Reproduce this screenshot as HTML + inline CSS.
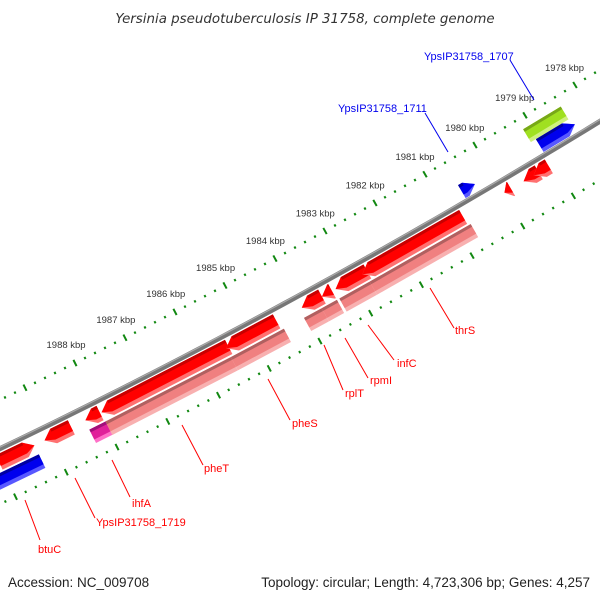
<!DOCTYPE html>
<html><head><meta charset="utf-8"><style>
body{margin:0;background:#fff}
svg{display:block;font-family:"Liberation Sans","DejaVu Sans",sans-serif}
</style></head><body>
<svg id="chart" width="600" height="600" viewBox="0 0 600 600" xmlns="http://www.w3.org/2000/svg">
<text x="305" y="23" text-anchor="middle" font-size="13.4" font-style="italic" fill="#333" font-family="DejaVu Sans, sans-serif">Yersinia pseudotuberculosis IP 31758, complete genome</text>
<g id="ticks"></g><g id="feats"></g><g id="labels"></g>
<text x="8" y="587" font-size="13.5" fill="#222">Accession: NC_009708</text>
<text x="590" y="587" text-anchor="end" font-size="13.5" fill="#222">Topology: circular; Length: 4,723,306 bp; Genes: 4,257</text>
</svg>
<script>
const tickKbp=[1988,1987,1986,1985,1984,1983,1982,1981,1980,1979,1978];
const tickLabels=["1988 kbp","1987 kbp","1986 kbp","1985 kbp","1984 kbp","1983 kbp","1982 kbp","1981 kbp","1980 kbp","1979 kbp","1978 kbp"];
const featStart=[1990,1989.1,1988.29,1987.97,1985.5,1984.0,1983.6,1983.33,1982.8,1979.98,1979.6,1979.4,1978.05,1988.3,1987.98,1985.5,1984.05,1983.7,1983.35,1982.75,1990.2,1980.6,1979.05,1979.15];
const featEnd=[1989.3,1988.57,1988.0,1985.45,1984.5,1983.6,1983.4,1982.7,1980.8,1979.85,1979.3,1979.1,1977.9,1987.95,1985.5,1984.45,1983.7,1983.4,1982.75,1980.75,1989.3,1980.34,1978.35,1978.4];
const featTrack=["red","red","red","red","red","red","red","red","red","red","red","red","red","pink","pink","pink","pink","pink","pink","pink","pink","blue","blue","green"];
const featDir=[1,-1,-1,-1,-1,-1,-1,-1,-1,-1,-1,-1,-1,0,0,0,0,0,0,0,0,1,1,0];
const featColor=["red","red","red","red","red","red","red","red","red","red","red","red","red","magenta","pink","pink","pink","pink","pink","pink","blue","blue","blue","green"];
const trackD={red:[48,64],pink:[66,81],blue:[26,41],green:[11,26]};
const colors={red:["#ff0000","#ff7070","#c80000"],pink:["#f08080","#f8b0b0","#b06060"],magenta:["#e0209a","#ff70c8","#a0107a"],blue:["#0000ee","#5858ff","#0000a0"],green:["#a0e020","#d0f080","#78a818"]};

function U(k){return 1988-k;}
function P(u,d){
  const bx=75+50*u, by=363-25*u-0.28*u*u;
  let tx=50, ty=-25-0.56*u; const L=Math.hypot(tx,ty); tx/=L; ty/=L;
  return [bx-ty*d, by+tx*d];
}
const NS="http://www.w3.org/2000/svg";
function mk(tag,attrs,parent){const e=document.createElementNS(NS,tag);for(const k in attrs)e.setAttribute(k,attrs[k]);parent.appendChild(e);return e;}
const gT=document.getElementById('ticks'), gF=document.getElementById('feats'), gL=document.getElementById('labels');

let pts=[];for(let u=-3;u<=11.5;u+=0.25){pts.push(P(u,44).join(','));}
let bb=mk('polyline',{points:pts.join(' '),fill:'none',stroke:'#777','stroke-width':5},gT);

pts=[];for(let u=-3;u<=11.5;u+=0.25){pts.push(P(u,42.5).join(','));}
let bb2=mk('polyline',{points:pts.join(' '),fill:'none',stroke:'#aaa','stroke-width':1.2},gT);


[0,94].forEach(function(d0){
  for(let i=-20;i<=60;i++){
    const u=i*0.2; const major=(i%5===0);
    const half=major?3.5:1.2;
    const a=P(u,d0-half), b=P(u,d0+half);
    if(a[0]<-5||a[0]>605||a[1]<30||a[1]>570)continue;
    const t=mk('line',{x1:a[0],y1:a[1],x2:b[0],y2:b[1],stroke:'#118811','stroke-width':2},gT);
    
    
  }
});
tickKbp.forEach(function(k,i){
  const p=P(U(k),-20);
  const t=mk('text',{x:p[0],y:p[1]+3,'text-anchor':'middle','font-size':9.5,fill:'#333'},gT);
  t.textContent=tickLabels[i];
  
  
});

function poly(arr){return arr.map(p=>p.join(',')).join(' ');}
featStart.forEach(function(s,i){
  let u1=U(s),u2=U(featEnd[i]); if(u1>u2){const t=u1;u1=u2;u2=t;}
  const d=trackD[featTrack[i]], d1=d[0], d2=d[1], dm=(d1+d2)/2;
  const a=Math.min(0.18,(u2-u1)*0.9); const dir=featDir[i]; const c=colors[featColor[i]];
  function shape(da,db){
    if(dir===-1) return [P(u1+a,da),P(u2,da),P(u2,db),P(u1+a,db),P(u1,dm)];
    if(dir===1) return [P(u1,da),P(u2-a,da),P(u2,dm),P(u2-a,db),P(u1,db)];
    return [P(u1,da),P(u2,da),P(u2,db),P(u1,db)];
  }
  const g=mk('g',{},gF);
  
  
  mk('polygon',{points:poly(shape(d1,d2)),fill:c[1]},g);
  mk('polygon',{points:poly(shape(d1,d2-4)),fill:c[0]},g);
  mk('polygon',{points:poly([P(u1+(dir===-1?a:0),d1),P(u2-(dir===1?a:0),d1),P(u2-(dir===1?a:0),d1+3),P(u1+(dir===-1?a:0),d1+3)]),fill:c[2]},g);
});

const labs=[
 ["btuC",25,500,40,540,38,553,"red"],
 ["YpsIP31758_1719",75,478,95,518,96,526,"red"],
 ["ihfA",112,460,130,497,132,507,"red"],
 ["pheT",182,425,203,465,204,472,"red"],
 ["pheS",268,379,290,420,292,427,"red"],
 ["rplT",324,345,343,390,345,397,"red"],
 ["rpmI",345,338,368,378,370,384,"red"],
 ["infC",368,325,394,360,397,367,"red"],
 ["thrS",430,288,454,328,455,334,"red"],
 ["YpsIP31758_1711",448,152,425,113,338,112,"#0000ee"],
 ["YpsIP31758_1707",534,100,510,60,424,60,"#0000ee"]
];
labs.forEach(function(l){
  const ln=mk('line',{x1:l[1],y1:l[2],x2:l[3],y2:l[4],stroke:l[7],'stroke-width':1},gL);
  
  
  const t=mk('text',{x:l[5],y:l[6],'font-size':11,fill:l[7]},gL);
  t.textContent=l[0];
  
  
});
</script>
</body></html>
